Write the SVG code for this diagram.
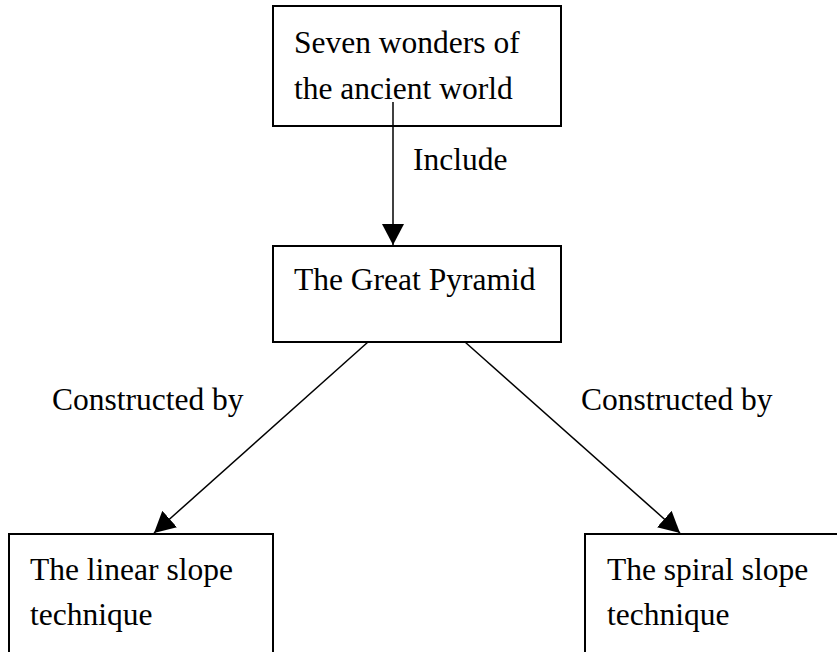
<svg xmlns="http://www.w3.org/2000/svg" width="837" height="652" viewBox="0 0 837 652">
  <style>
    .box { fill: #ffffff; stroke: #000000; stroke-width: 2; }
    .lbl { font-family: "Liberation Serif", "Times New Roman", serif; font-size: 31.5px; fill: #000000; }
    .edge { fill: none; stroke: #000000; stroke-width: 1.5; }
  </style>
  <defs>
    <marker id="arrow" markerUnits="userSpaceOnUse" markerWidth="22" markerHeight="22" refX="21" refY="11" orient="auto">
      <path d="M0,0 L21,11 L0,22 Z" fill="#000000"/>
    </marker>
  </defs>
  <rect width="837" height="652" fill="#ffffff"/>
  <g id="node-seven-wonders">
    <rect class="box" x="273" y="6" width="288" height="120"/>
    <text class="lbl" x="294" y="53">Seven wonders of</text>
    <text class="lbl" x="294" y="99">the ancient world</text>
  </g>
  <g id="node-great-pyramid">
    <rect class="box" x="273" y="246" width="288" height="96"/>
    <text class="lbl" x="294" y="290">The Great Pyramid</text>
  </g>
  <g id="node-linear-slope">
    <rect class="box" x="9" y="534" width="264" height="130"/>
    <text class="lbl" x="30" y="580">The linear slope</text>
    <text class="lbl" x="30" y="625">technique</text>
  </g>
  <g id="node-spiral-slope">
    <rect class="box" x="585" y="534" width="270" height="130"/>
    <text class="lbl" x="607" y="580">The spiral slope</text>
    <text class="lbl" x="607" y="625">technique</text>
  </g>
  <g id="connectors">
    <line class="edge" x1="393" y1="102" x2="393" y2="245" marker-end="url(#arrow)"/>
    <text class="lbl" x="413" y="170">Include</text>
    <line class="edge" x1="368" y1="342" x2="154" y2="533" marker-end="url(#arrow)"/>
    <text class="lbl" x="52" y="410">Constructed by</text>
    <line class="edge" x1="465" y1="342" x2="680" y2="533" marker-end="url(#arrow)"/>
    <text class="lbl" x="581" y="410">Constructed by</text>
  </g>
</svg>
